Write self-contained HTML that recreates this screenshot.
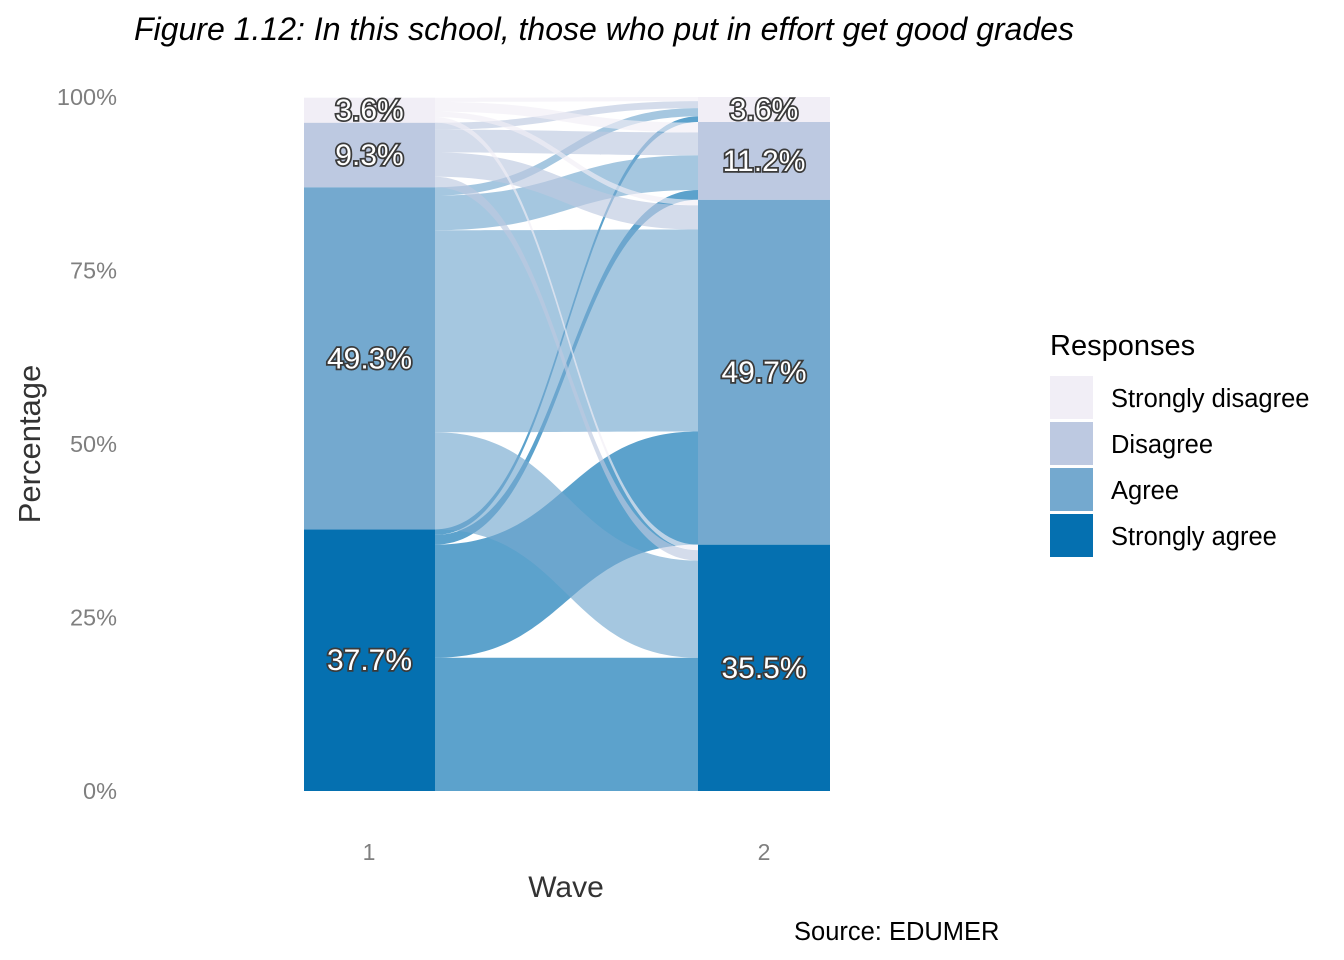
<!DOCTYPE html>
<html><head><meta charset="utf-8"><style>
body{margin:0;background:#fff;}
svg{display:block;font-family:"Liberation Sans",Arial,sans-serif;}
</style></head><body>
<svg id="chart" width="1344" height="960" viewBox="0 0 1344 960" xmlns="http://www.w3.org/2000/svg">
<text x="134" y="40" font-size="32" font-style="italic" fill="#000" textLength="940" lengthAdjust="spacingAndGlyphs">Figure 1.12: In this school, those who put in effort get good grades</text>
<g id="yaxis"></g>
<g id="flows"></g>
<g id="bars"></g>
<g id="labels"></g>
<text x="369" y="860" font-size="23" fill="#7f7f7f" text-anchor="middle">1</text>
<text x="764" y="860" font-size="23" fill="#7f7f7f" text-anchor="middle">2</text>
<text x="566" y="897" font-size="30" fill="#333" text-anchor="middle">Wave</text>
<text transform="translate(40,444) rotate(-90)" font-size="31" fill="#333" text-anchor="middle">Percentage</text>
<g>
<text x="1050" y="355" font-size="29" fill="#000">Responses</text>
<rect x="1050" y="376" width="43" height="43" fill="#f1eef6"/>
<text x="1111" y="407" font-size="25.5">Strongly disagree</text>
<rect x="1050" y="422" width="43" height="43" fill="#bdc9e1"/>
<text x="1111" y="453" font-size="25.5">Disagree</text>
<rect x="1050" y="468" width="43" height="43" fill="#74a9cf"/>
<text x="1111" y="499" font-size="25.5">Agree</text>
<rect x="1050" y="514" width="43" height="43" fill="#0570b0"/>
<text x="1111" y="545" font-size="25.5">Strongly agree</text>
</g>
<text x="794" y="940" font-size="25.5" fill="#000">Source: EDUMER</text>
</svg>
<script>
const categories = ["Strongly agree","Agree","Disagree","Strongly disagree"];
const colors = ["#0570b0","#74a9cf","#bdc9e1","#f1eef6"];
const wave1 = [37.7, 49.3, 9.3, 3.6];
const wave2 = [35.5, 49.7, 11.2, 3.6];
const wave1Labels = ["37.7%","49.3%","9.3%","3.6%"];
const wave2Labels = ["35.5%","49.7%","11.2%","3.6%"];
// flows[i][j]: percent moving from wave1 category i to wave2 category j
const flowSA = [19.2, 16.3, 1.4, 0.8];
const flowA  = [14.0, 29.1, 5.0, 1.2];
const flowD  = [1.5, 3.5, 3.3, 1.0];
const flowSD = [0.8, 0.8, 1.4, 0.6];
const flows = [flowSA, flowA, flowD, flowSD];
const yTicks = [0,25,50,75,100];

const NS="http://www.w3.org/2000/svg";
const y0=791, y100=97;
const y = v => y0 - (y0-y100)*v/100;
const x1L=304, x1R=435, x2L=698, x2R=830;
function mk(tag, attrs, parent){const e=document.createElementNS(NS,tag);for(const k in attrs)e.setAttribute(k,attrs[k]);parent.appendChild(e);return e;}

const yaxis=document.getElementById('yaxis');
yTicks.forEach(t=>{
  const e=mk('text',{x:117,y:y(t)+8,'font-size':23.5,fill:'#7f7f7f','text-anchor':'end'},yaxis);
  e.textContent=t+'%';
  
  
});

const fg=document.getElementById('flows');
const start1=[]; let c=0; wave1.forEach(v=>{start1.push(c);c+=v;});
const start2=[]; c=0; wave2.forEach(v=>{start2.push(c);c+=v;});
const off1=start1.slice(), off2=start2.slice();
const pos=[];
for(let i=0;i<4;i++){pos[i]=[];for(let j=0;j<4;j++){pos[i][j]={a:off1[i]};off1[i]+=flows[i][j];}}
for(let j=0;j<4;j++){for(let i=0;i<4;i++){pos[i][j].b=off2[j];off2[j]+=flows[i][j];}}
const xm=(x1R+x2L)/2;
for(let i=0;i<4;i++)for(let j=0;j<4;j++){
  const v=flows[i][j]; if(v<=0)continue;
  const a0=y(pos[i][j].a), a1=y(pos[i][j].a+v), b0=y(pos[i][j].b), b1=y(pos[i][j].b+v);
  const d=`M${x1R},${a0} C${xm},${a0} ${xm},${b0} ${x2L},${b0} L${x2L},${b1} C${xm},${b1} ${xm},${a1} ${x1R},${a1} Z`;
  const p=mk('path',{d:d,fill:colors[i],'fill-opacity':0.65},fg);
  
  
}

const bg=document.getElementById('bars'), lg=document.getElementById('labels');
[[wave1,start1,x1L,x1R,wave1Labels,1],[wave2,start2,x2L,x2R,wave2Labels,2]].forEach(([vals,st,xl,xr,labs,w])=>{
  vals.forEach((v,i)=>{
    const r=mk('rect',{x:xl,y:y(st[i]+v),width:xr-xl,height:y(st[i])-y(st[i]+v),fill:colors[i]},bg);
    
    
    const t=mk('text',{x:(xl+xr)/2,y:y(st[i]+v/2)+10,'font-size':30,fill:'#fff',stroke:'#3a3a3a','stroke-width':3.5,'paint-order':'stroke','text-anchor':'middle'},lg);
    t.textContent=labs[i];
    
    
  });
});
</script>
</body></html>
